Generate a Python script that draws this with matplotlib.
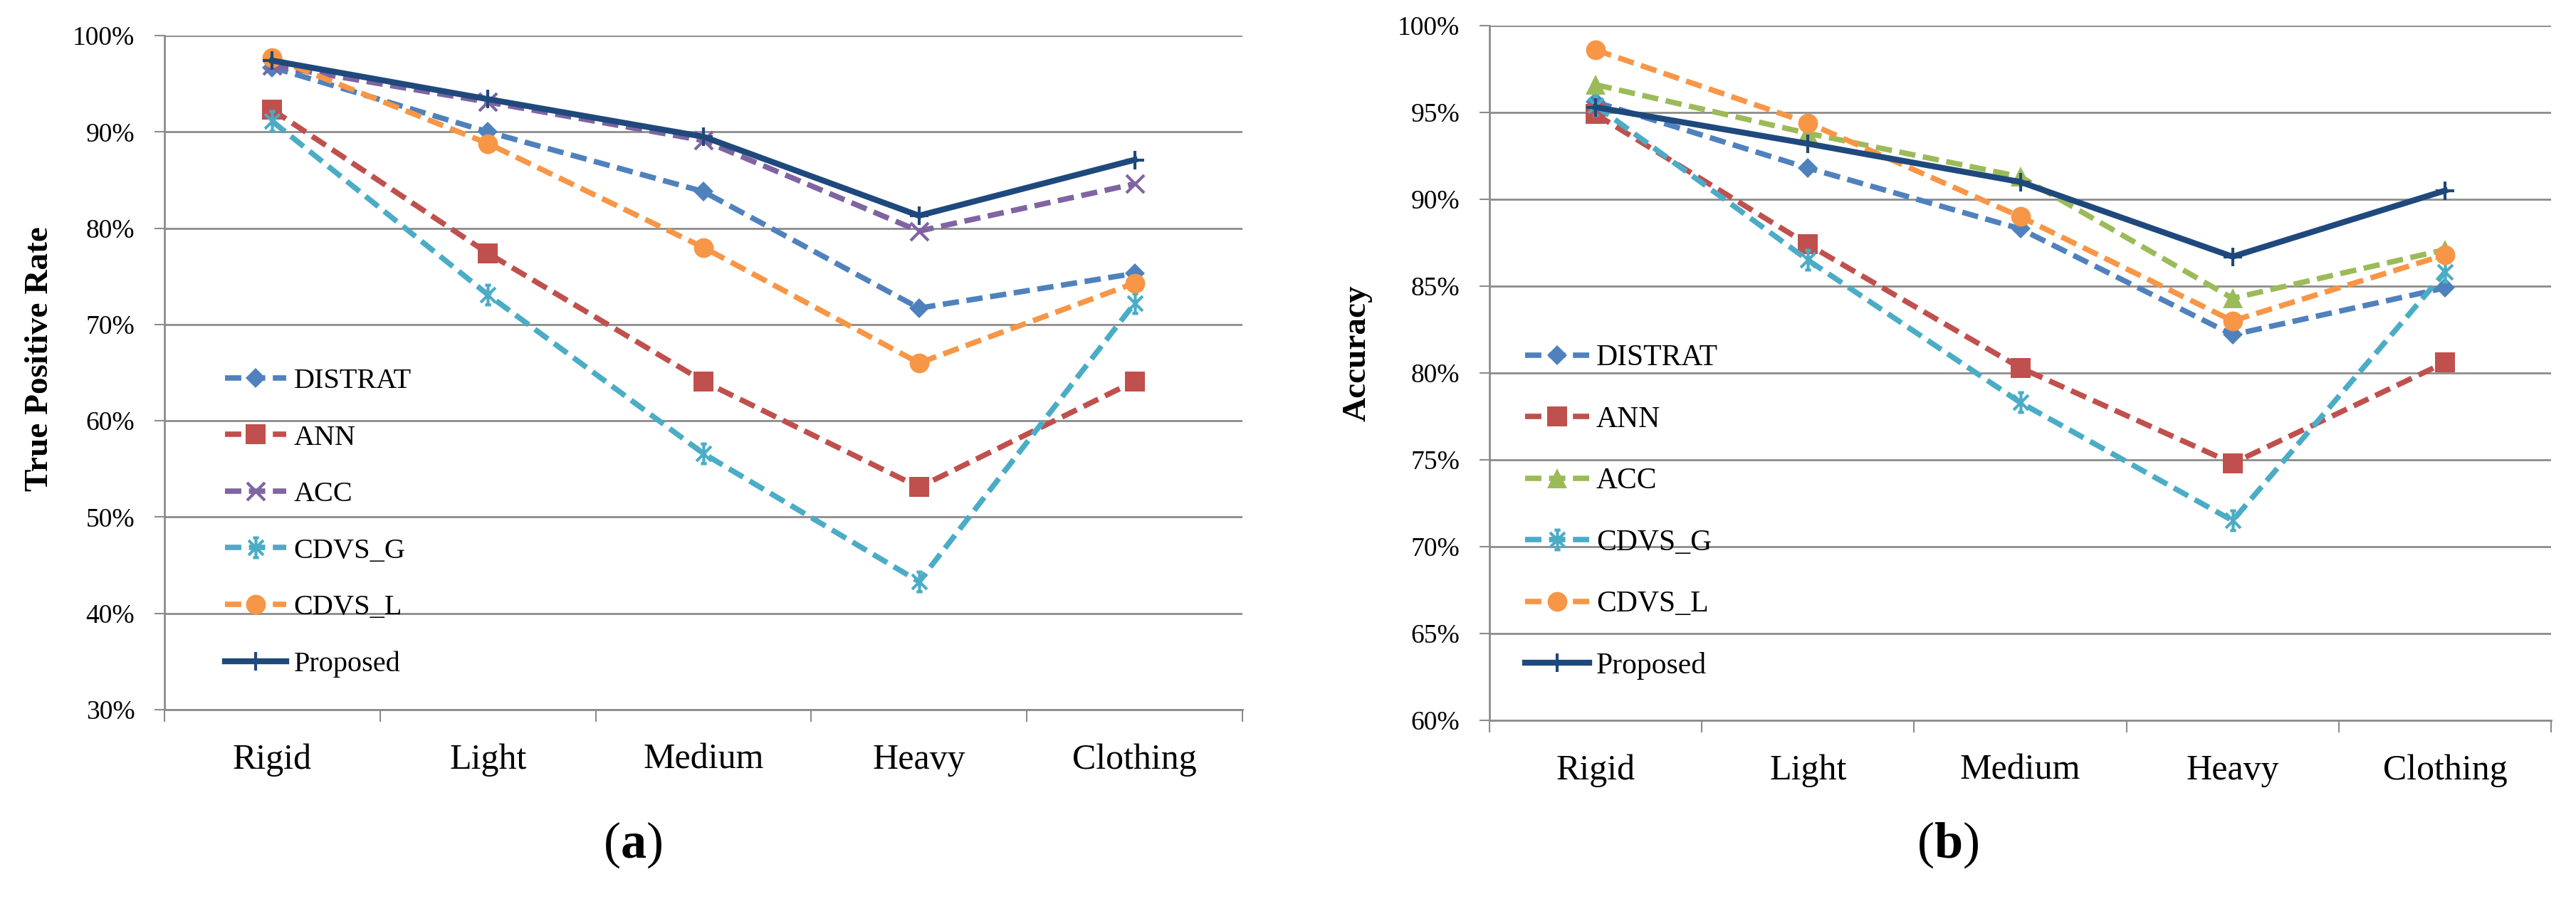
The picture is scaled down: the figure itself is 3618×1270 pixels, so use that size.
import matplotlib
matplotlib.use("Agg")
import matplotlib.pyplot as plt
from matplotlib.path import Path
from matplotlib.ticker import MultipleLocator, PercentFormatter
import numpy as np

plt.rcParams['font.family'] = ['Liberation Serif', 'DejaVu Serif']
plt.rcParams['mathtext.fontset'] = 'custom'
plt.rcParams['mathtext.rm'] = 'Liberation Serif'
plt.rcParams['mathtext.bf'] = 'Liberation Serif:bold'

# Data (percent)
categories = ["Rigid", "Light", "Medium", "Heavy", "Clothing"]
methods = ["DISTRAT", "ANN", "ACC", "CDVS_G", "CDVS_L", "Proposed"]

tpr_distrat = [96.7, 90.0, 83.8, 71.7, 75.3]
tpr_ann = [92.3, 77.4, 64.1, 53.1, 64.1]
tpr_acc = [96.9, 93.1, 89.1, 79.7, 84.6]
tpr_cdvs_g = [91.1, 73.1, 56.6, 43.3, 72.2]
tpr_cdvs_l = [97.7, 88.8, 78.0, 66.0, 74.3]
tpr_proposed = [97.4, 93.4, 89.5, 81.3, 87.1]

acc_distrat = [95.6, 91.8, 88.3, 82.2, 84.9]
acc_ann = [94.9, 87.4, 80.3, 74.8, 80.6]
acc_acc = [96.6, 93.8, 91.3, 84.3, 87.1]
acc_cdvs_g = [95.4, 86.5, 78.3, 71.5, 85.8]
acc_cdvs_l = [98.6, 94.4, 89.0, 83.0, 86.8]
acc_proposed = [95.3, 93.2, 91.0, 86.7, 90.5]

W, H = 3618, 1270
GRID = '#8c8c8c'

# excel-like star marker: x plus vertical bar with caps
star = Path([(0, -1), (0, 1), (-0.3, 1), (0.3, 1), (-0.3, -1), (0.3, -1),
             (-0.75, -0.75), (0.75, 0.75), (-0.75, 0.75), (0.75, -0.75)],
            [Path.MOVETO, Path.LINETO] * 5)

def style(name, acc_color):
	dash = dict(ls='--', dashes=(3.0, 1.4), lw=5.5)
	if name == "DISTRAT":
		return dict(color='#4F81BD', marker='D', ms=14, mew=0, **dash)
	if name == "ANN":
		return dict(color='#C0504D', marker='s', ms=20, mew=0, **dash)
	if name == "ACC":
		if acc_color == 'green':
			return dict(color='#9BBB59', marker='^', ms=20, mew=0, **dash)
		return dict(color='#8064A2', marker='x', ms=18, mew=3, **dash)
	if name == "CDVS_G":
		return dict(color='#4BACC6', marker=star, ms=20, mew=3, **dash)
	if name == "CDVS_L":
		return dict(color='#F79646', marker='o', ms=20, mew=0, **dash)
	return dict(color='#1F497D', marker='+', ms=19, mew=3, ls='-', lw=6)


def draw_panel(rect, series, ylo, yhi, step, acc_color, leg_anchor, leg_fs, leg_space):
	ax = fig.add_axes(rect)
	x = np.arange(len(categories))
	for name, vals in zip(methods, series):
		ax.plot(x, vals, label=name, clip_on=False, **style(name, acc_color))

	ax.set_xlim(-0.5, len(categories) - 0.5)
	ax.set_ylim(ylo, yhi)
	ax.set_xticks(x)
	ax.set_xticklabels(categories)
	ax.set_xticks(np.arange(-0.5, len(categories), 1), minor=True)
	ax.tick_params(axis='x', which='major', length=0, pad=34, labelsize=36)
	ax.tick_params(axis='x', which='minor', length=12, width=1.5, color=GRID)
	ax.yaxis.set_major_locator(MultipleLocator(step))
	ax.yaxis.set_major_formatter(PercentFormatter(100, decimals=0))
	ax.tick_params(axis='y', length=10, width=1.5, color=GRID, pad=20, labelsize=27)
	ax.yaxis.grid(True, color=GRID, lw=2)
	ax.set_axisbelow(True)
	for s in ['top', 'right']:
		ax.spines[s].set_visible(False)
	for s in ['left', 'bottom']:
		ax.spines[s].set_color(GRID)
		ax.spines[s].set_linewidth(2)

	ax.legend(loc='upper left', bbox_to_anchor=leg_anchor, frameon=False,
			  fontsize=leg_fs, handlelength=2.15, handletextpad=0.25,
			  labelspacing=leg_space, borderpad=0, borderaxespad=0)
	return ax


fig = plt.figure(figsize=(W / 100, H / 100), dpi=100)

draw_panel([231 / W, 1 - 997 / H, 1514 / W, 947 / H],
		   [tpr_distrat, tpr_ann, tpr_acc, tpr_cdvs_g, tpr_cdvs_l, tpr_proposed],
		   30, 100, 10, 'purple', (0.056, 0.507), 29, 1.05)
draw_panel([2092 / W, 1 - 1012 / H, 1491 / W, 976 / H],
		   [acc_distrat, acc_ann, acc_acc, acc_cdvs_g, acc_cdvs_l, acc_proposed],
		   60, 100, 5, 'green', (0.0335, 0.541), 30, 1.15)

fig.text(56 / W, 1 - 504 / H, "True Positive Rate", rotation=90, fontsize=34,
		 fontweight='bold', ha='center', va='center')
fig.text(1907 / W, 1 - 496 / H, "Accuracy", rotation=90, fontsize=34,
		 fontweight='bold', ha='center', va='center')
fig.text(889 / W, 1 - 1187 / H, r'($\mathbf{a}$)', fontsize=52, ha='center', va='center')
fig.text(2736 / W, 1 - 1187 / H, r'($\mathbf{b}$)', fontsize=52, ha='center', va='center')

fig.savefig("out.png", dpi=100)
